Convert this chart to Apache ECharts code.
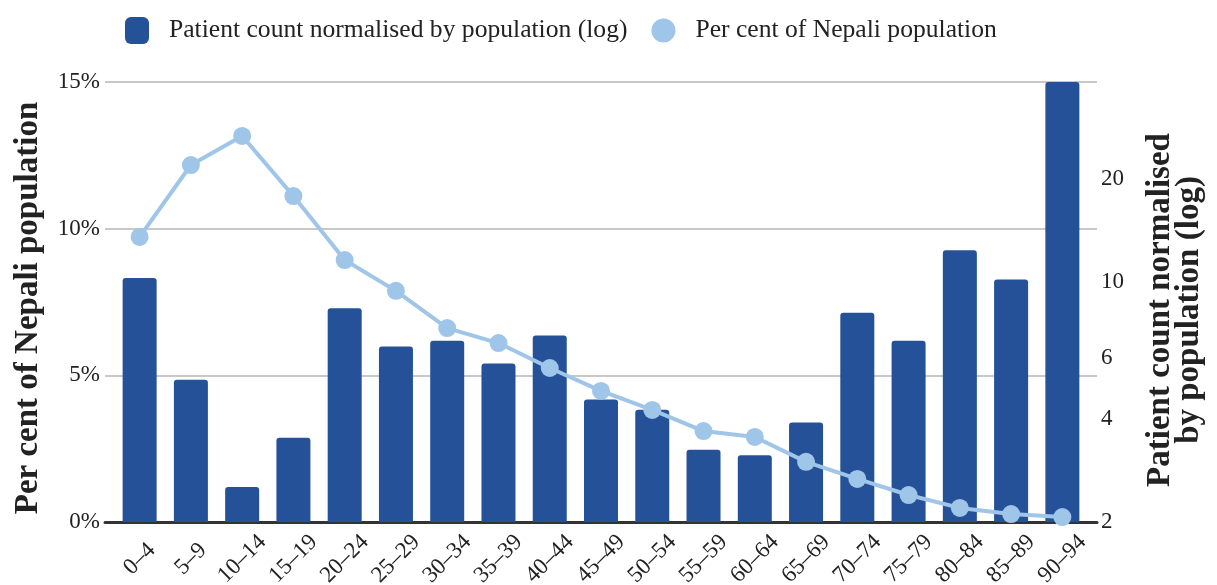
<!DOCTYPE html>
<html>
<head>
<meta charset="utf-8">
<script src="https://cdn.jsdelivr.net/npm/echarts@6/dist/echarts.min.js"></script>
<style>
  html, body { margin: 0; padding: 0; background: #fff; }
  #chart { width: 1217px; height: 585px; }
</style>
</head>
<body>
<div id="chart"></div>
<script>
// Age bands (five-year groups)
const ageGroups = ['0–4', '5–9', '10–14', '15–19', '20–24', '25–29', '30–34', '35–39', '40–44',
  '45–49', '50–54', '55–59', '60–64', '65–69', '70–74', '75–79', '80–84', '85–89', '90–94'];

// Patient count normalised by population (plotted on a log scale)
const patientNormalised = [10.3, 5.2, 2.53, 3.52, 8.4, 6.5, 6.75, 5.8, 7.0, 4.55,
  4.25, 3.25, 3.13, 3.9, 8.15, 6.75, 12.4, 10.2, 38.4];

// Share of the Nepali population in each age band (%)
const populationShare = [9.72, 12.17, 13.16, 11.11, 8.93, 7.88, 6.61, 6.10, 5.25, 4.47,
  3.82, 3.10, 2.90, 2.05, 1.47, 0.92, 0.48, 0.27, 0.17];

// Axis ticks
const percentTicks = [0, 5, 10, 15];
const countTicks = [2, 4, 6, 10, 20];

const barName = 'Patient count normalised by population (log)';
const lineName = 'Per cent of Nepali population';

const FONT = '"Liberation Serif", "DejaVu Serif", serif';
const INK = '#222222';
const BAR = '#245197';
const LINE = '#9fc5e8';

const chart = echarts.init(document.getElementById('chart'), null, { renderer: 'canvas' });

chart.setOption({
  animation: false,
  textStyle: { fontFamily: FONT, color: INK },
  legend: {
    left: 120,
    top: 12,
    itemWidth: 24,
    itemHeight: 27,
    itemGap: 24,
    textStyle: { fontFamily: FONT, fontSize: 25.6, color: INK, padding: [0, 0, 0, 15] },
    data: [
      { name: barName, icon: 'roundRect' },
      { name: lineName, icon: 'circle' }
    ]
  },
  grid: [
    // plotting grid
    { left: 114, right: 129, top: 82, bottom: 63, outerBoundsMode: 'none' },
    // slightly wider frame carrying gridlines and baseline
    { left: 105, right: 120, top: 82, bottom: 63, outerBoundsMode: 'none' }
  ],
  xAxis: [
    {
      type: 'category',
      gridIndex: 0,
      data: ageGroups,
      boundaryGap: true,
      axisLine: { show: false },
      axisTick: { show: false },
      axisLabel: {
        rotate: 45,
        align: 'center',
        verticalAlign: 'middle',
        margin: 37,
        fontFamily: FONT,
        fontSize: 23,
        color: INK,
        interval: 0
      }
    },
    {
      type: 'value',
      gridIndex: 1,
      min: 0,
      max: 1,
      axisLine: { show: true, lineStyle: { color: '#333333', width: 3 } },
      axisTick: { show: false },
      axisLabel: { show: false },
      splitLine: { show: false }
    }
  ],
  yAxis: [
    {
      type: 'value',
      gridIndex: 0,
      position: 'left',
      min: 0,
      max: 15,
      interval: 5,
      name: 'Per cent of Nepali population',
      nameLocation: 'middle',
      nameGap: 69,
      nameTextStyle: { fontFamily: FONT, fontSize: 33, fontWeight: 'bold', color: INK, padding: [0, 12, 0, 0] },
      axisLine: { show: false },
      axisTick: { show: false },
      splitLine: { show: false },
      axisLabel: {
        margin: 14,
        fontFamily: FONT,
        fontSize: 23,
        color: INK,
        customValues: percentTicks,
        formatter: v => v + '%'
      }
    },
    {
      type: 'log',
      gridIndex: 0,
      position: 'right',
      logBase: 10,
      min: 2,
      max: 38.4,
      name: 'Patient count normalised\nby population (log)',
      nameLocation: 'middle',
      nameGap: 58,
      nameTextStyle: { fontFamily: FONT, fontSize: 33, fontWeight: 'bold', color: INK, lineHeight: 29, align: 'center', padding: [0, 16, 0, 0] },
      axisLine: { show: false },
      axisTick: { show: false },
      splitLine: { show: false },
      axisLabel: {
        margin: 13,
        fontFamily: FONT,
        fontSize: 23,
        color: INK,
        customValues: countTicks,
        formatter: v => String(Math.round(v))
      }
    },
    {
      type: 'value',
      gridIndex: 1,
      min: 0,
      max: 15,
      interval: 5,
      axisLine: { show: false },
      axisTick: { show: false },
      axisLabel: { show: false },
      splitLine: { show: true, lineStyle: { color: '#c8c8c8', width: 2 } }
    }
  ],
  series: [
    {
      name: barName,
      type: 'bar',
      xAxisIndex: 0,
      yAxisIndex: 1,
      data: patientNormalised,
      barWidth: 34,
      itemStyle: { color: BAR, borderRadius: [3, 3, 0, 0] },
      z: 3
    },
    {
      name: lineName,
      type: 'line',
      xAxisIndex: 0,
      yAxisIndex: 0,
      data: populationShare,
      symbol: 'circle',
      symbolSize: 18,
      lineStyle: { color: LINE, width: 4 },
      itemStyle: { color: LINE },
      z: 4
    }
  ]
});
</script>
</body>
</html>
